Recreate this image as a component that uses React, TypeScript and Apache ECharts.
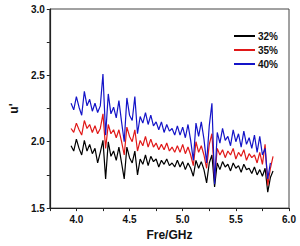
import React, { useEffect, useRef } from "react";
import * as echarts from "echarts";

const freq = [
  3.95, 3.975, 4.0, 4.025, 4.05, 4.075, 4.1, 4.125, 4.15, 4.175,
  4.2, 4.225, 4.25, 4.275, 4.3, 4.325, 4.35, 4.375, 4.4, 4.425,
  4.45, 4.475, 4.5, 4.525, 4.55, 4.575, 4.6, 4.625, 4.65, 4.675,
  4.7, 4.725, 4.75, 4.775, 4.8, 4.825, 4.85, 4.875, 4.9, 4.925,
  4.95, 4.975, 5.0, 5.025, 5.05, 5.075, 5.1, 5.125, 5.15, 5.175,
  5.2, 5.225, 5.25, 5.275, 5.3, 5.325, 5.35, 5.375, 5.4, 5.425,
  5.45, 5.475, 5.5, 5.525, 5.55, 5.575, 5.6, 5.625, 5.65, 5.675,
  5.7, 5.725, 5.75, 5.775, 5.8, 5.825, 5.85,
];

const s32 = [
  1.97, 1.93, 2.02, 1.95, 1.90, 2.01, 1.93, 1.98, 1.91, 1.95,
  1.84, 1.92, 2.01, 1.72, 2.00, 1.89, 1.93, 1.86, 1.96, 1.84,
  1.72, 1.96, 1.88, 1.84, 1.93, 1.75, 1.87, 1.83, 1.90, 1.82,
  1.89, 1.85, 1.87, 1.81, 1.86, 1.83, 1.87, 1.82, 1.84, 1.81,
  1.86, 1.81, 1.85, 1.79, 1.84, 1.80, 1.74, 1.86, 1.80, 1.85,
  1.79, 1.69, 1.84, 1.90, 1.66, 1.84, 1.79, 1.85, 1.81, 1.83,
  1.78, 1.84, 1.80, 1.82, 1.77, 1.83, 1.79, 1.80, 1.76, 1.81,
  1.75, 1.79, 1.74, 1.80, 1.62, 1.73, 1.78,
];

const s35 = [
  2.10, 2.07, 2.14, 2.09, 2.05, 2.16, 2.10, 2.13, 2.07, 2.12,
  2.06, 2.10, 2.21, 1.95, 2.13, 2.06, 2.09, 2.03, 2.09, 2.00,
  1.90, 2.11, 2.04, 2.00, 2.09, 1.93, 2.01, 1.97, 2.04, 1.96,
  2.02, 1.96, 1.99, 1.94, 1.98, 1.94, 1.99, 1.93, 1.96, 1.92,
  1.97, 1.92, 1.98, 1.91, 1.96, 1.90, 1.82, 2.00, 1.92, 1.97,
  1.90, 1.80, 1.98, 2.06, 1.72, 1.95, 1.90, 1.94, 1.88, 1.93,
  1.90, 1.95, 1.87, 1.92, 1.89, 1.94, 1.86, 1.91, 1.88, 1.90,
  1.84, 1.92, 1.83, 1.98, 1.67, 1.80, 1.89,
];

const s40 = [
  2.29, 2.24, 2.34, 2.26, 2.20, 2.38, 2.27, 2.32, 2.23, 2.29,
  2.22, 2.27, 2.51, 2.05, 2.36, 2.21, 2.26, 2.18, 2.31, 2.15,
  2.00, 2.33, 2.20, 2.16, 2.34, 2.06, 2.19, 2.14, 2.22, 2.13,
  2.20, 2.12, 2.15, 2.09, 2.15, 2.07, 2.13, 2.08, 2.10, 2.05,
  2.12, 2.05, 2.11, 2.03, 2.13, 2.01, 1.86, 2.14, 2.04, 2.15,
  2.02, 1.84, 2.12, 2.29, 1.68, 2.07, 1.99, 2.10, 2.01, 2.04,
  1.97, 2.09, 2.00, 2.06, 1.96, 2.08, 1.98, 2.03, 1.95, 2.05,
  1.92, 2.04, 1.90, 1.95, 1.72, 1.84,
];

const seriesNames = ["32%", "35%", "40%"];
const seriesColors = ["#000000", "#e01818", "#1414c8"];
const xTicks = [4.0, 4.5, 5.0, 5.5, 6.0];
const yTicks = [1.5, 2.0, 2.5, 3.0];

export default function App() {
  const ref = useRef<HTMLDivElement>(null);
  useEffect(() => {
    if (!ref.current) return;
    const chart = echarts.init(ref.current, null, { renderer: "svg" });
    const all = [s32, s35, s40];
    const font = "Liberation Sans, Arial, sans-serif";
    chart.setOption({
      animation: false,
      backgroundColor: "#ffffff",
      grid: {
        left: 38,
        right: 11,
        top: 9,
        bottom: 34,
        show: true,
        borderColor: "#444",
        borderWidth: 1,
      },
      legend: {
        orient: "vertical",
        left: 229,
        top: 25,
        itemWidth: 21,
        itemHeight: 2,
        itemGap: 2,
        icon: "rect",
        data: seriesNames,
        textStyle: {
          fontFamily: font,
          fontWeight: "bold",
          fontSize: 10,
          color: "#111",
          padding: [0, 0, 0, -2],
          lineHeight: 12,
        },
      },
      xAxis: {
        type: "value",
        min: 3.75,
        max: 6.0,
        interval: 0.25,
        name: "Fre/GHz",
        nameLocation: "middle",
        nameGap: 19,
        nameTextStyle: {
          fontFamily: font,
          fontWeight: "bold",
          fontSize: 12,
          color: "#111",
        },
        axisLine: { lineStyle: { color: "#222", width: 1.2 } },
        axisTick: { show: true, length: 3, lineStyle: { color: "#222" } },
        axisLabel: {
          fontFamily: font,
          fontWeight: "bold",
          fontSize: 10,
          color: "#111",
          margin: 6,
          showMaxLabel: true,
          formatter: (v: number) =>
            xTicks.some((t) => Math.abs(t - v) < 1e-6) ? v.toFixed(1) : "",
        },
        splitLine: { show: false },
      },
      yAxis: {
        type: "value",
        min: 1.5,
        max: 3.0,
        interval: 0.25,
        name: "u'",
        nameLocation: "middle",
        nameGap: 24,
        nameTextStyle: {
          fontFamily: font,
          fontWeight: "bold",
          fontSize: 12,
          color: "#111",
        },
        axisLine: { lineStyle: { color: "#222", width: 1.2 } },
        axisTick: { show: true, length: 3, lineStyle: { color: "#222" } },
        axisLabel: {
          fontFamily: font,
          fontWeight: "bold",
          fontSize: 10,
          color: "#111",
          margin: 5,
          formatter: (v: number) =>
            yTicks.some((t) => Math.abs(t - v) < 1e-6) ? v.toFixed(1) : "",
        },
        splitLine: { show: false },
      },
      series: all.map((vals, i) => ({
        name: seriesNames[i],
        type: "line",
        showSymbol: false,
        symbol: "none",
        color: seriesColors[i],
        lineStyle: { width: 1.2, color: seriesColors[i] },
        data: vals.map((v, j) => [freq[j], v]),
      })),
    });
    return () => chart.dispose();
  }, []);
  return (
    <div
      ref={ref}
      style={{ position: "fixed", left: 0, top: 0, width: 300, height: 246 }}
    />
  );
}
